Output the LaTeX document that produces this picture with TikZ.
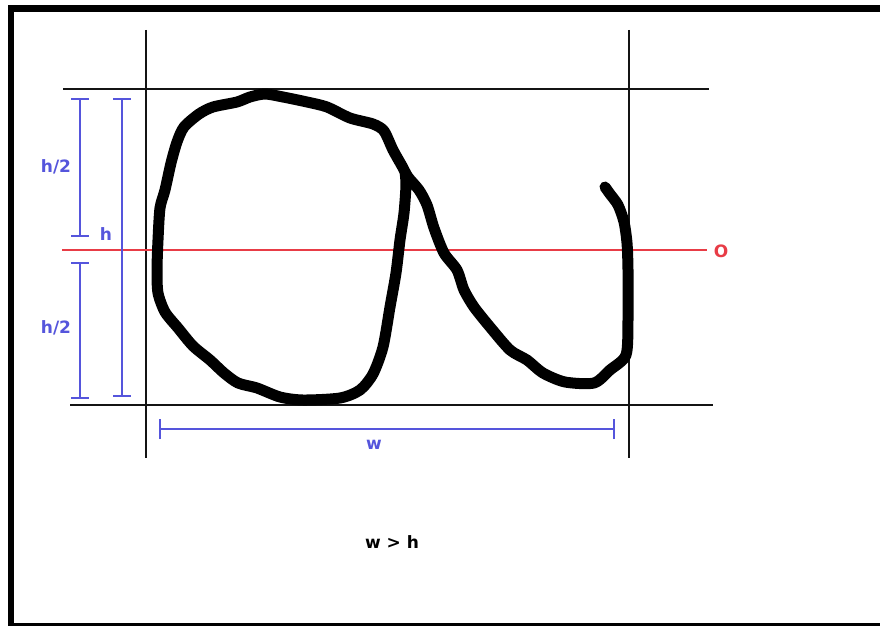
\documentclass[tikz,border=0pt]{standalone}
\usepackage{fontspec}
\setmainfont{DejaVu Sans}
\definecolor{dimblue}{RGB}{85,85,220}
\definecolor{axisred}{RGB}{232,60,70}
\definecolor{guide}{RGB}{20,20,20}
\tikzset{
  guideline/.style={draw=guide, line width=1.2pt},
  dimline/.style={draw=dimblue, line width=1.2pt},
  dimlabel/.style={text=dimblue, font=\bfseries\fontsize{17}{17}\selectfont, inner sep=0pt},
  pen/.style={draw=black, line width=11pt, line cap=round, line join=round}
}
\begin{document}
\begin{tikzpicture}[x=1pt, y=-1pt]
\useasboundingbox (0,0) rectangle (880,626);
\fill[white] (0,0) rectangle (880,626);
% frame
\fill[black] (8,5) rectangle (880,12);
\fill[black] (8,5) rectangle (14,626);
\fill[black] (8,622.5) rectangle (880,626);
% guide lines
\coordinate (vl1) at (146,30);  \coordinate (vl2) at (146,458);
\coordinate (vr1) at (629,30);  \coordinate (vr2) at (629,458);
\coordinate (ht1) at (63,89);   \coordinate (ht2) at (709,89);
\coordinate (hb1) at (70,405);  \coordinate (hb2) at (713,405);
\draw[guideline] (vl1) -- (vl2);
\draw[guideline] (vr1) -- (vr2);
\draw[guideline] (ht1) -- (ht2);
\draw[guideline] (hb1) -- (hb2);
% red axis
\coordinate (ax1) at (62,250); \coordinate (ax2) at (707,250);
\draw[draw=axisred, line width=1.2pt] (ax1) -- (ax2);
\node[text=axisred, font=\bfseries\fontsize{17}{17}\selectfont, inner sep=0pt] (olabel) at (721,251) {O};
% dimension h/2 upper
\coordinate (hu1) at (80,99); \coordinate (hu2) at (80,236);
\draw[dimline] (hu1) -- (hu2);
\draw[dimline] ([xshift=-9]hu1) -- ([xshift=9]hu1);
\draw[dimline] ([xshift=-9]hu2) -- ([xshift=9]hu2);
% dimension h/2 lower
\coordinate (hl1) at (80,263); \coordinate (hl2) at (80,398);
\draw[dimline] (hl1) -- (hl2);
\draw[dimline] ([xshift=-9]hl1) -- ([xshift=9]hl1);
\draw[dimline] ([xshift=-9]hl2) -- ([xshift=9]hl2);
% dimension h
\coordinate (h1) at (122,99); \coordinate (h2) at (122,396);
\draw[dimline] (h1) -- (h2);
\draw[dimline] ([xshift=-9]h1) -- ([xshift=9]h1);
\draw[dimline] ([xshift=-9]h2) -- ([xshift=9]h2);
% dimension w
\coordinate (w1) at (160,429); \coordinate (w2) at (614,429);
\draw[dimline] (w1) -- (w2);
\draw[dimline] ([yshift=-10]w1) -- ([yshift=10]w1);
\draw[dimline] ([yshift=-10]w2) -- ([yshift=10]w2);
% labels
\node[dimlabel] (lhu) at (56,167) {h/2};
\node[dimlabel] (lhl) at (56,328) {h/2};
\node[dimlabel] (lh) at (106,234) {h};
\node[dimlabel] (lw) at (374,445) {w};
\node[font=\bfseries\fontsize{17}{17}\selectfont, inner sep=0pt] (cmp) at (392,542) {w > h};
% hand-drawn alpha
\draw[pen] plot[smooth, tension=0.45] coordinates {
(605,187) (610,194) (618,205) (624,222) (627,243) (628,270) (628,320) (626,355)
(610,370) (594,383) (565,382) (543,373) (527,360) (510,350) (490,327) (474,307)
(464,290) (457,270) (444,253) (434,228) (427,205) (419,190) (408,177) (402,166)
(393,150) (384,131) (373,124) (350,118) (327,107) (307,102) (283,97) (265,94)
(250,97) (237,102) (213,107) (199,114) (184,127) (177,142) (171,163) (165,190)
(160,208) (158,240) (157,270) (158,293) (165,312) (178,328) (193,346) (210,360)
(224,373) (238,383) (257,388) (280,397) (303,400) (340,398) (360,390) (373,374)
(383,347) (390,307) (396,273) (400,240) (404,213) (406,185) (405,172)};
\end{tikzpicture}
\end{document}
